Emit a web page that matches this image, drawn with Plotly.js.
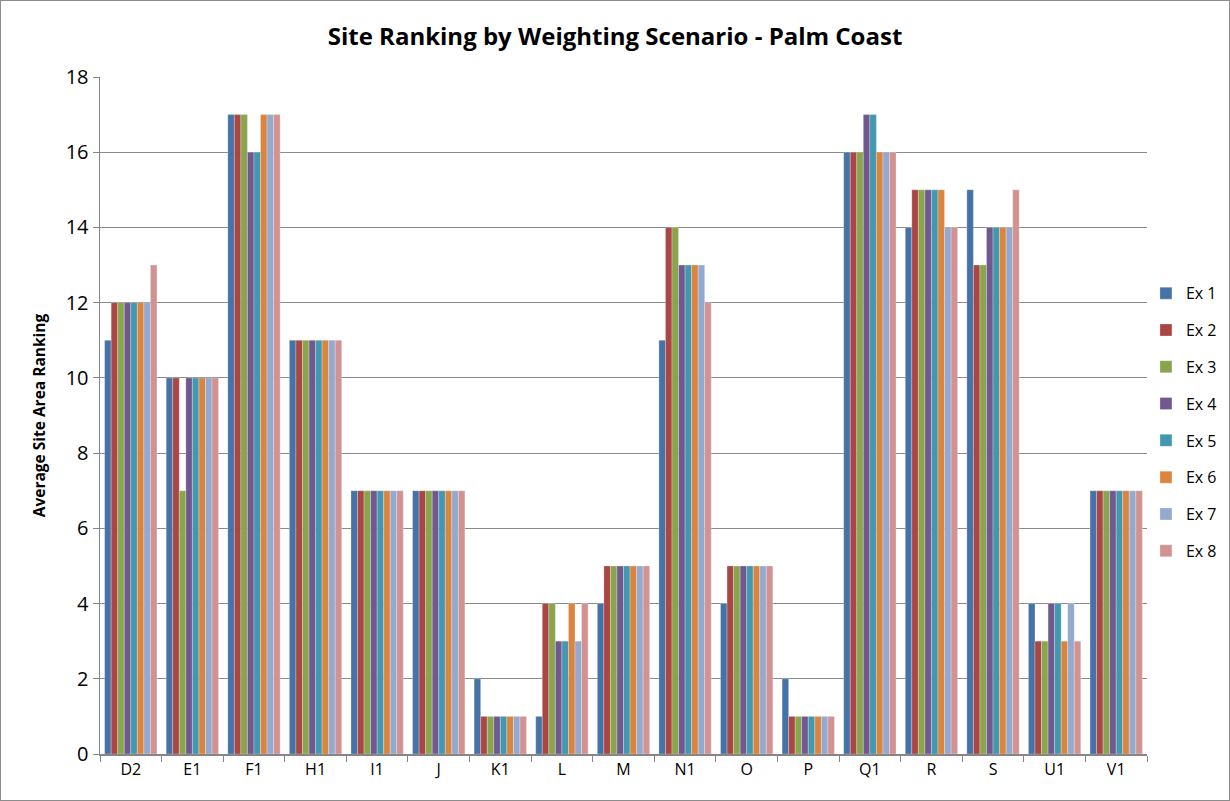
<!DOCTYPE html>
<html>
<head>
<meta charset="utf-8">
<script src="https://cdn.plot.ly/plotly-3.0.1.min.js"></script>
<style>
html,body{margin:0;padding:0;background:#fff;}
#chart{width:1228px;height:799px;border:1px solid #8c8c8c;}
</style>
</head>
<body>
<div id="chart"></div>
<script>
const sites = ["D2","E1","F1","H1","I1","J","K1","L","M","N1","O","P","Q1","R","S","U1","V1"];
const ex1 = [11,10,17,11,7,7,2,1,4,11,4,2,16,14,15,4,7];
const ex2 = [12,10,17,11,7,7,1,4,5,14,5,1,16,15,13,3,7];
const ex3 = [12,7,17,11,7,7,1,4,5,14,5,1,16,15,13,3,7];
const ex4 = [12,10,16,11,7,7,1,3,5,13,5,1,17,15,14,4,7];
const ex5 = [12,10,16,11,7,7,1,3,5,13,5,1,17,15,14,4,7];
const ex6 = [12,10,17,11,7,7,1,4,5,13,5,1,16,15,14,3,7];
const ex7 = [12,10,17,11,7,7,1,3,5,13,5,1,16,14,14,4,7];
const ex8 = [13,10,17,11,7,7,1,4,5,12,5,1,16,14,15,3,7];
const seriesNames = ["Ex 1","Ex 2","Ex 3","Ex 4","Ex 5","Ex 6","Ex 7","Ex 8"];
const seriesValues = [ex1,ex2,ex3,ex4,ex5,ex6,ex7,ex8];
const colors = ["#4572A7","#AA4643","#89A54E","#71588F","#4198AF","#DB843D","#93A9CF","#D19392"];

const traces = seriesValues.map((v,i)=>({
  type:"bar", name:seriesNames[i], x:sites, y:v, legendgroup:"g"+i,
  marker:{color:colors[i], line:{color:"rgba(255,255,255,0.45)", width:0.6}}
}));

const font = "'Open Sans', 'Liberation Sans', sans-serif";
const layout = {
  width:1228, height:799,
  margin:{l:99, r:82, t:76, b:46, autoexpand:false},
  paper_bgcolor:"#fff", plot_bgcolor:"#fff",
  barmode:"group", bargap:0.15, bargroupgap:0,
  font:{family:font, color:"#000"},
  title:{text:"<b>Site Ranking by Weighting Scenario - Palm Coast</b>", x:0.5, xanchor:"center", y:0.956, yanchor:"middle", font:{size:24, family:font}},
  xaxis:{
    type:"category", showgrid:false, showline:true, linecolor:"#868686", linewidth:1.5,
    ticks:"outside", tickson:"boundaries", ticklen:6, tickcolor:"#868686",
    tickfont:{size:16, family:font}, fixedrange:true
  },
  yaxis:{
    range:[0,18], dtick:2, tick0:0, showgrid:true, gridcolor:"#8a8a8a", gridwidth:1,
    showline:true, linecolor:"#868686", linewidth:1.5, ticks:"outside", ticklen:6, tickcolor:"#868686",
    tickfont:{size:20, family:font}, zeroline:false,
    title:{text:"<b>Average Site Area Ranking</b>", font:{size:15.5, family:font}, standoff:16}
  },
  legend:{x:0.999, xanchor:"left", y:0.49, yanchor:"middle", font:{size:16, family:font}, traceorder:"grouped", tracegroupgap:13, itemwidth:30, bgcolor:"rgba(0,0,0,0)"},
  showlegend:true
};
Plotly.newPlot("chart", traces, layout, {displayModeBar:false, staticPlot:true});
</script>
</body>
</html>
